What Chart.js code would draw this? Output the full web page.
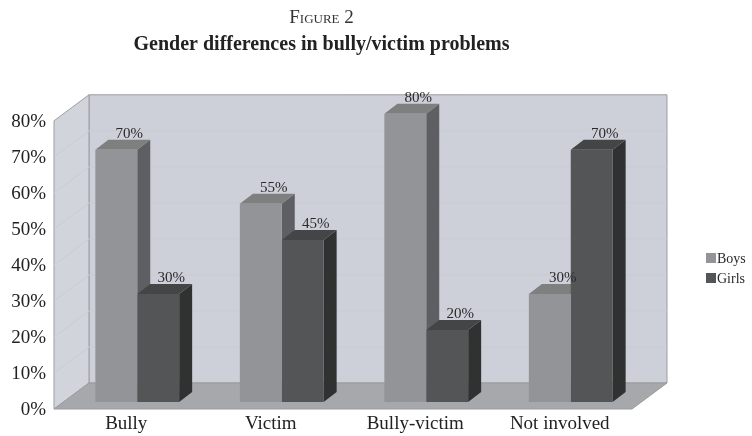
<!DOCTYPE html>
<html>
<head>
<meta charset="utf-8">
<script src="https://cdn.jsdelivr.net/npm/chart.js@4"></script>
<style>
  html, body { margin: 0; padding: 0; background: #fff; }
  #wrap { width: 752px; height: 436px; }
</style>
</head>
<body>
<div id="wrap"><canvas id="bully-chart" width="752" height="436"></canvas></div>
<script>
// Chart data
const categories = ['Bully', 'Victim', 'Bully-victim', 'Not involved'];
const boys = [70, 55, 80, 30];
const girls = [30, 45, 20, 70];
const yTicks = [0, 10, 20, 30, 40, 50, 60, 70, 80];

// 3D offsets relative to the plane the bar fronts sit in
const FRONT = { dx: -11, dy: 7 };
const BACK = { dx: 24, dy: -19 };
const DEPTH = { dx: 13, dy: -10 };

const serif = '"Liberation Serif", "Times New Roman", serif';

const faces = [
  { front: '#939498', top: '#7d807f', side: '#5e5f63' }, // Boys
  { front: '#545557', top: '#444546', side: '#303231' }  // Girls
];

function poly(ctx, pts, fill, stroke) {
  ctx.beginPath();
  ctx.moveTo(pts[0][0], pts[0][1]);
  for (let i = 1; i < pts.length; i++) ctx.lineTo(pts[i][0], pts[i][1]);
  ctx.closePath();
  if (fill) { ctx.fillStyle = fill; ctx.fill(); }
  if (stroke) { ctx.strokeStyle = stroke; ctx.lineWidth = 1; ctx.stroke(); }
}

// walls, floor and the top/side faces of the bars
const boxPlugin = {
  id: 'box3d',
  beforeDatasetsDraw(chart) {
    const { ctx, chartArea: a, scales: { y } } = chart;
    const y0 = y.getPixelForValue(0);
    const yTop = y.getPixelForValue(80);
    ctx.save();

    // back wall
    poly(ctx, [
      [a.left + BACK.dx, yTop + BACK.dy], [a.right + BACK.dx, yTop + BACK.dy],
      [a.right + BACK.dx, y0 + BACK.dy], [a.left + BACK.dx, y0 + BACK.dy]
    ], '#cdd0d8', '#9b9da2');

    // side wall
    poly(ctx, [
      [a.left + FRONT.dx, yTop + FRONT.dy], [a.left + BACK.dx, yTop + BACK.dy],
      [a.left + BACK.dx, y0 + BACK.dy], [a.left + FRONT.dx, y0 + FRONT.dy]
    ], '#d1d4db', '#9b9da2');

    // faint gridlines
    ctx.strokeStyle = '#c9ccd3';
    ctx.lineWidth = 1;
    yTicks.slice(1, -1).forEach(v => {
      const py = y.getPixelForValue(v);
      ctx.beginPath();
      ctx.moveTo(a.left + FRONT.dx, py + FRONT.dy);
      ctx.lineTo(a.left + BACK.dx, py + BACK.dy);
      ctx.lineTo(a.right + BACK.dx, py + BACK.dy);
      ctx.stroke();
    });

    // floor
    poly(ctx, [
      [a.left + FRONT.dx, y0 + FRONT.dy], [a.right + FRONT.dx, y0 + FRONT.dy],
      [a.right + BACK.dx, y0 + BACK.dy], [a.left + BACK.dx, y0 + BACK.dy]
    ], '#a7a8ab', '#9a9b9e');

    // top and side faces, Boys before Girls in each group
    for (let j = 0; j < categories.length; j++) {
      for (let d = 0; d < 2; d++) {
        const bar = chart.getDatasetMeta(d).data[j];
        const { x, y: top, base, width } = bar.getProps(['x', 'y', 'base', 'width'], true);
        const l = x - width / 2, r = x + width / 2;
        poly(ctx, [
          [r, top], [r + DEPTH.dx, top + DEPTH.dy],
          [r + DEPTH.dx, base + DEPTH.dy], [r, base]
        ], faces[d].side);
        poly(ctx, [
          [l, top], [r, top], [r + DEPTH.dx, top + DEPTH.dy], [l + DEPTH.dx, top + DEPTH.dy]
        ], faces[d].top);
      }
    }
    ctx.restore();
  },
  afterDatasetsDraw(chart) {
    const { ctx } = chart;
    ctx.save();
    ctx.font = '15px ' + serif;
    ctx.fillStyle = '#2a2a2a';
    ctx.textAlign = 'center';
    ctx.textBaseline = 'alphabetic';
    chart.data.datasets.forEach((ds, d) => {
      chart.getDatasetMeta(d).data.forEach((bar, j) => {
        const { x, y } = bar.getProps(['x', 'y'], true);
        ctx.fillText(ds.data[j] + '%', x + DEPTH.dx, y + DEPTH.dy - 2);
      });
    });
    ctx.restore();
  },
  afterDraw(chart) {
    // legend at the right
    const { ctx } = chart;
    ctx.save();
    ctx.font = '14px ' + serif;
    ctx.textBaseline = 'middle';
    chart.data.datasets.forEach((ds, d) => {
      const cy = 258 + d * 20;
      ctx.fillStyle = ds.backgroundColor;
      ctx.fillRect(706, cy - 5, 10, 10);
      ctx.fillStyle = '#2a2a2a';
      ctx.fillText(ds.label, 717, cy + 1);
    });
    ctx.restore();
  }
};

new Chart(document.getElementById('bully-chart'), {
  type: 'bar',
  data: {
    labels: categories,
    datasets: [
      { label: 'Boys', data: boys, backgroundColor: faces[0].front },
      { label: 'Girls', data: girls, backgroundColor: faces[1].front }
    ]
  },
  options: {
    responsive: false,
    animation: false,
    categoryPercentage: 0.58,
    barPercentage: 1,
    borderWidth: 0,
    layout: { padding: { left: 0, right: 109, top: 0, bottom: 0 } },
    scales: {
      x: {
        grid: { display: false },
        border: { display: false },
        ticks: {
          color: '#222',
          font: { family: serif, size: 19 },
          labelOffset: FRONT.dx,
          padding: 3
        },
        afterFit(scale) { scale.height = 34; }
      },
      y: {
        min: 0,
        max: 80,
        grid: { display: false },
        border: { display: false },
        afterBuildTicks(scale) { scale.ticks = yTicks.map(v => ({ value: v })); },
        ticks: {
          color: '#222',
          font: { family: serif, size: 19 },
          labelOffset: FRONT.dy + 1,
          padding: 11,
          callback: v => v + '%'
        },
        afterFit(scale) { scale.width = 65; }
      }
    },
    plugins: {
      legend: { display: false },
      tooltip: { enabled: false },
      title: {
        display: true,
        text: 'Figure 2',
        color: '#333',
        font: { family: serif, size: 19, weight: 'small-caps 400' },
        padding: { top: 7, bottom: 0 }
      },
      subtitle: {
        display: true,
        text: 'Gender differences in bully/victim problems',
        color: '#222',
        font: { family: serif, size: 20, weight: 'bold' },
        padding: { top: 3, bottom: 57 }
      }
    }
  },
  plugins: [boxPlugin]
});
</script>
</body>
</html>
